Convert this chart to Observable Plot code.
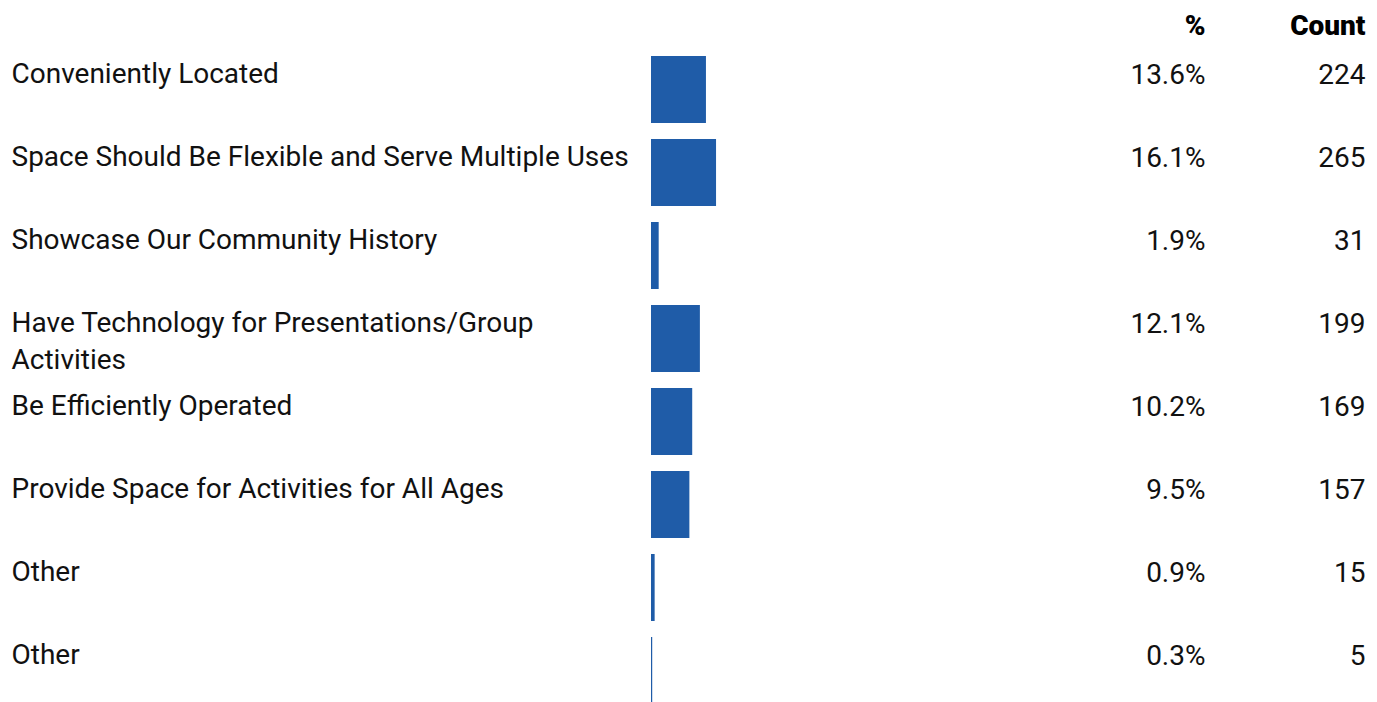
<!DOCTYPE html>
<html>
<head>
<meta charset="utf-8">
<script src="https://cdn.jsdelivr.net/npm/d3@7"></script>
<script src="https://cdn.jsdelivr.net/npm/@observablehq/plot@0.6"></script>
<style>
  html, body { margin: 0; padding: 0; background: #fff; overflow: hidden; }
</style>
</head>
<body>
<div id="chart"></div>
<script>
const categories = [
  "Conveniently Located",
  "Space Should Be Flexible and Serve Multiple Uses",
  "Showcase Our Community History",
  "Have Technology for Presentations/Group\nActivities",
  "Be Efficiently Operated",
  "Provide Space for Activities for All Ages",
  "Other",
  "Other"
];
const percents = [13.6, 16.1, 1.9, 12.1, 10.2, 9.5, 0.9, 0.3];
const counts = [224, 265, 31, 199, 169, 157, 15, 5];
const headers = ["%", "Count"];

const rows = categories.map((c, i) => ({key: i, label: c, pct: percents[i], count: counts[i]}));

const FONT = "Roboto, 'Open Sans', sans-serif";
const FS = 28;
const BLUE = "#1f5ca8";

const chart = Plot.plot({
  width: 1377,
  height: 713,
  marginLeft: 651,
  marginRight: 12,
  marginTop: 48,
  marginBottom: 0,
  x: {domain: [0, 100], range: [651, 1055], axis: null},
  y: {domain: rows.map(d => d.key), paddingInner: 0.19, paddingOuter: 0.096, align: 0.5, axis: null},
  marks: [
    Plot.barX(rows, {x: "pct", y: "key", fill: BLUE}),
    Plot.text(rows, {
      y: "key", text: "label", frameAnchor: "left", textAnchor: "start", dx: -640,
      lineAnchor: "top", dy: -33, lineHeight: 1.32,
      fontSize: FS, fontFamily: FONT, fill: "#111"
    }),
    Plot.text(rows, {
      y: "key", text: d => d.pct.toFixed(1) + "%", frameAnchor: "right", textAnchor: "end", dx: -160,
      lineAnchor: "top", dy: -26, fontSize: FS, fontFamily: FONT, fill: "#111"
    }),
    Plot.text(rows, {
      y: "key", text: d => String(d.count), frameAnchor: "right", textAnchor: "end",
      lineAnchor: "top", dy: -26, fontSize: FS, fontFamily: FONT, fill: "#111"
    }),
    Plot.text([headers[0]], {
      text: d => d, frameAnchor: "top-right", textAnchor: "end", dx: -160, dy: -33,
      lineAnchor: "top", fontSize: FS, fontWeight: 900, fontFamily: FONT, fill: "#000"
    }),
    Plot.text([headers[1]], {
      text: d => d, frameAnchor: "top-right", textAnchor: "end", dy: -33,
      lineAnchor: "top", fontSize: FS, fontWeight: 900, fontFamily: FONT, fill: "#000"
    })
  ]
});
document.getElementById("chart").appendChild(chart);
</script>
</body>
</html>
